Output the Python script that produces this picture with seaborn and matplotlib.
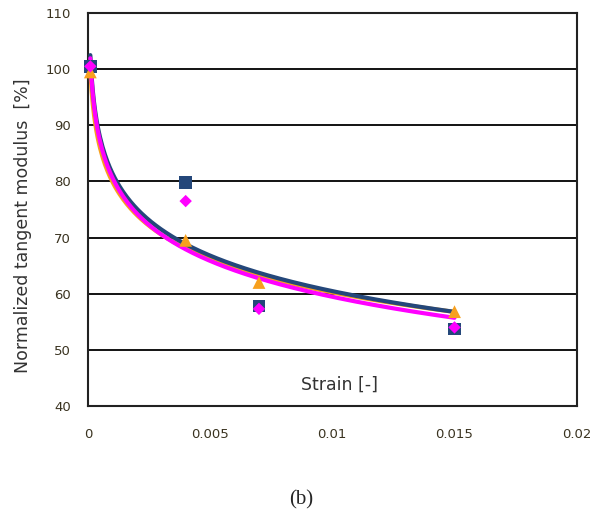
import numpy as np
import pandas as pd
import seaborn as sns
import matplotlib
matplotlib.use("Agg")
import matplotlib.pyplot as plt

# strain values (first point sits just right of zero)
strain = [0.0001, 0.004, 0.007, 0.015]
# normalized tangent modulus [%] for the three sets
mod_square = [100.5, 79.8, 57.8, 53.7]
mod_diamond = [100.5, 76.5, 57.3, 54.0]
mod_triangle = [99.5, 69.5, 62.0, 56.8]

x_ticks = [0, 0.005, 0.01, 0.015, 0.02]
x_labels = ["0", "0.005", "0.01", "0.015", "0.02"]
y_ticks = [40, 50, 60, 70, 80, 90, 100, 110]

series = {"square": mod_square, "diamond": mod_diamond, "triangle": mod_triangle}
colors = {"square": "#24477A", "diamond": "#FF00FF", "triangle": "#F7A01E"}
markers = {"square": "s", "diamond": "D", "triangle": "^"}
sizes = {"square": 85, "diamond": 40, "triangle": 85}

rows = []
for name, vals in series.items():
    for s, v in zip(strain, vals):
        rows.append({"set": name, "strain": s, "modulus": v})
df = pd.DataFrame(rows)

sns.set_style("white")
fig = plt.figure(figsize=(6.02, 5.24), dpi=100)
ax = fig.add_axes([0.146, 0.2252, 0.812, 0.75])

# logarithmic trendlines (Excel style) fitted to each set
xs = np.linspace(min(strain), max(strain), 300)
fits = []
for name in ["triangle", "square", "diamond"]:
    sub = df[df["set"] == name]
    b, a = np.polyfit(np.log(sub["strain"]), sub["modulus"], 1)
    fits.append(pd.DataFrame({"set": name, "strain": xs, "modulus": a + b * np.log(xs)}))
fit_df = pd.concat(fits)
for name in ["triangle", "square", "diamond"]:
    sns.lineplot(data=fit_df[fit_df["set"] == name], x="strain", y="modulus",
                 color=colors[name], lw=3, ax=ax, zorder=3)

for name in ["square", "triangle", "diamond"]:
    sub = df[df["set"] == name]
    sns.scatterplot(data=sub, x="strain", y="modulus", marker=markers[name],
                    s=sizes[name], color=colors[name], edgecolor="none",
                    ax=ax, zorder=4, clip_on=False)

ax.set_xlim(0, 0.02)
ax.set_ylim(40, 110)
ax.set_xticks(x_ticks)
ax.set_xticklabels(x_labels)
ax.set_yticks(y_ticks)
ax.yaxis.grid(True, color="black", lw=1.3)
ax.xaxis.grid(False)
ax.set_axisbelow(True)
for sp in ax.spines.values():
    sp.set_color("#222222")
    sp.set_linewidth(1.5)
ax.tick_params(axis="both", length=0, labelsize=9.5, colors="#3a3320")
ax.tick_params(axis="x", pad=16)
ax.tick_params(axis="y", pad=12)

ax.set_xlabel("")
ax.set_ylabel("Normalized tangent modulus  [%]", fontsize=12.5, color="#333333")
ax.yaxis.set_label_coords(-0.115, 0.46)
ax.text(0.515, 0.055, "Strain [-]", transform=ax.transAxes, ha="center", va="center",
        fontsize=12.5, color="#333333")

fig.text(0.5, 1 - 500 / 524, "(b)", ha="center", va="center", fontsize=15,
         family=["Liberation Serif", "DejaVu Serif"])

fig.savefig("out.png", dpi=100)
